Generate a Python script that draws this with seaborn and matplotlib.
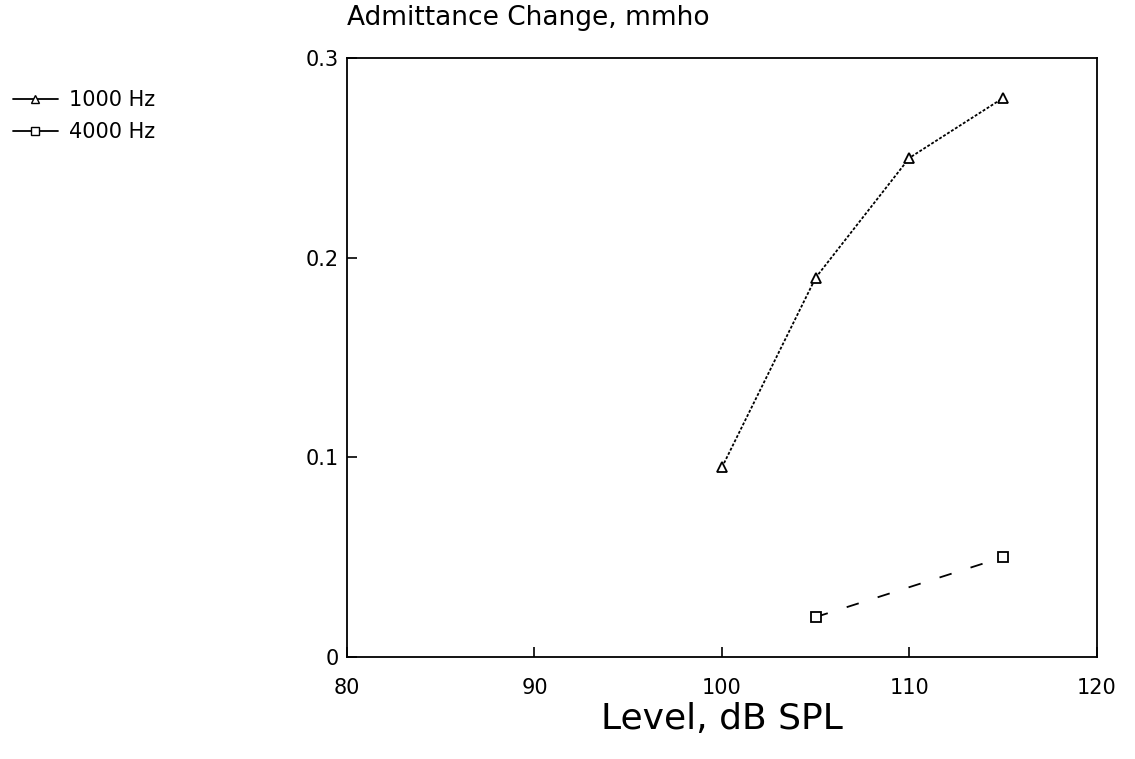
import matplotlib
matplotlib.use("Agg")
import matplotlib.pyplot as plt
import seaborn as sns
import pandas as pd
from matplotlib.lines import Line2D

sns.set_theme(style="white")
plt.rcParams['font.family'] = ['DejaVu Sans']

levels_1000 = [100, 105, 110, 115]
values_1000 = [0.095, 0.19, 0.25, 0.28]
levels_4000 = [105, 115]
values_4000 = [0.02, 0.05]
series_names = ["1000 Hz", "4000 Hz"]
x_ticks = [80, 90, 100, 110, 120]
y_ticks = [0, 0.1, 0.2, 0.3]
y_tick_labels = ["0", "0.1", "0.2", "0.3"]

df = pd.DataFrame({
    "level": levels_1000 + levels_4000,
    "value": values_1000 + values_4000,
    "series": [series_names[0]] * len(levels_1000) + [series_names[1]] * len(levels_4000),
})

fig = plt.figure(figsize=(11.35, 7.59), dpi=100)
ax = fig.add_axes([0.3057, 0.1344, 0.6608, 0.7892])

sns.lineplot(data=df, x="level", y="value", hue="series", style="series",
             markers={"1000 Hz": "^", "4000 Hz": "s"},
             dashes={"1000 Hz": (1.6, 1.0), "4000 Hz": (7, 11)},
             palette={"1000 Hz": "black", "4000 Hz": "black"},
             markerfacecolor="white", markeredgecolor="black", markersize=7,
             markeredgewidth=1.3, linewidth=1.3, ax=ax, legend=False)

ax.set_xlim(80, 120)
ax.set_ylim(0, 0.3)
ax.set_xticks(x_ticks)
ax.set_xticklabels([str(t) for t in x_ticks], fontsize=15)
ax.set_yticks(y_ticks)
ax.set_yticklabels(y_tick_labels, fontsize=15)
ax.tick_params(axis="both", direction="in", length=7, width=1.2, colors="black",
               bottom=True, left=True)
ax.tick_params(axis="x", pad=15)
ax.tick_params(axis="y", pad=6)
for s in ax.spines.values():
    s.set_color("black")
    s.set_linewidth(1.3)
ax.set_xlabel("Level, dB SPL", fontsize=26, labelpad=3, color="black")
ax.set_ylabel("")
ax.set_title("Admittance Change, mmho", fontsize=19, loc="left", pad=24, color="black")

handles = [
    Line2D([], [], color="black", linestyle="-", marker="^", markerfacecolor="white",
           markersize=6, linewidth=1.3),
    Line2D([], [], color="black", linestyle="-", marker="s", markerfacecolor="white",
           markersize=6, linewidth=1.3),
]
fig.legend(handles, series_names, loc="upper left", bbox_to_anchor=(0.0, 0.898),
           frameon=False, fontsize=15, handlelength=2.2, labelspacing=0.6,
           handletextpad=0.5, borderaxespad=0.2, labelcolor="black")

fig.savefig("out.png", dpi=100)
